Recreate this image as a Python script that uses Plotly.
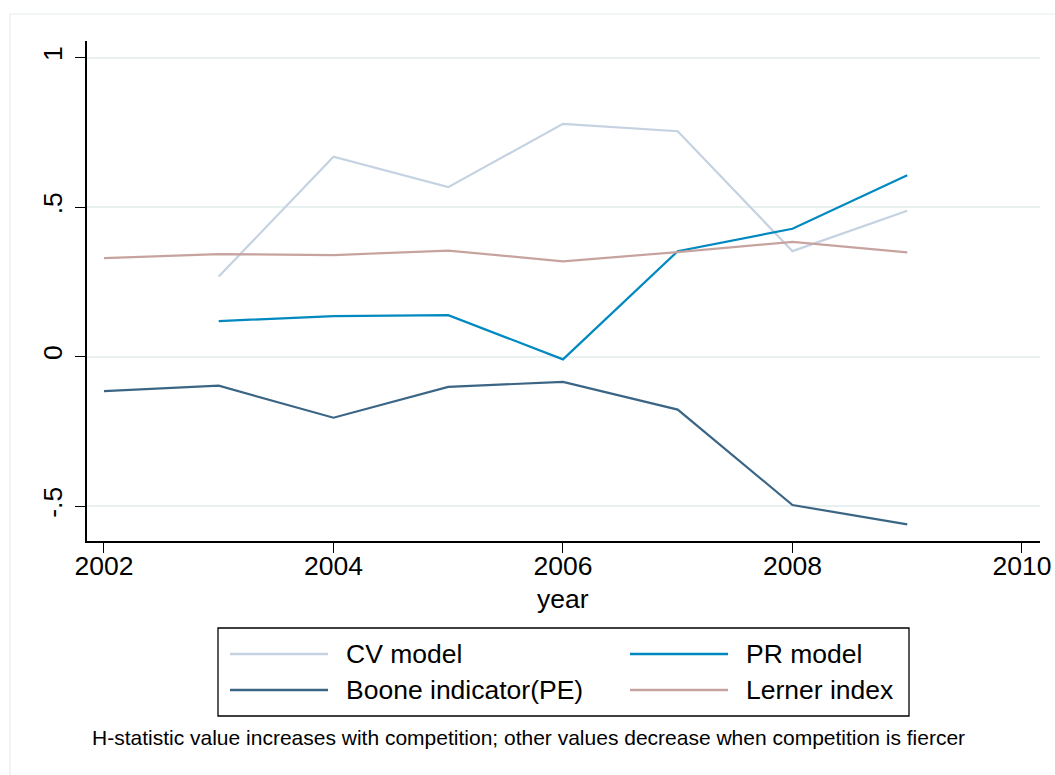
import plotly.graph_objects as go

years = [2002, 2003, 2004, 2005, 2006, 2007, 2008, 2009]
cv_model = [None, 0.268, 0.669, 0.567, 0.779, 0.754, 0.353, 0.488]
pr_model = [None, 0.119, 0.136, 0.139, -0.009, 0.353, 0.428, 0.607]
boone = [-0.115, -0.097, -0.204, -0.101, -0.084, -0.177, -0.496, -0.561]
lerner = [0.330, 0.343, 0.340, 0.355, 0.319, 0.350, 0.384, 0.349]

series_names = ["CV model", "PR model", "Boone indicator(PE)", "Lerner index"]
series_colors = ["#c4d2e1", "#0089c0", "#3b6585", "#c7a39f"]
series_values = [cv_model, pr_model, boone, lerner]

x_ticks = [2002, 2004, 2006, 2008, 2010]
y_ticks = [-0.5, 0, 0.5, 1]
y_tick_text = ["-.5", "0", ".5", "1"]
caption = "H-statistic value increases with competition; other values decrease when competition is fiercer"
x_title = "year"

W, H = 1055, 775
L, R, T, B = 87, 15, 41, 234
PW, PH = W - L - R, H - T - B


def px(x):
    return (x - L) / PW


def py(y):
    return (H - B - y) / PH


FONT = "Arial, Liberation Sans, sans-serif"

fig = go.Figure()
for name, color, vals in zip(series_names, series_colors, series_values):
    fig.add_trace(go.Scatter(x=years, y=vals, mode="lines", name=name,
                             line=dict(color=color, width=2.2),
                             connectgaps=False, showlegend=False))

shapes = []
annotations = []
# outer light frame
shapes.append(dict(type="rect", xref="paper", yref="paper",
                   x0=px(10), x1=px(1080), y0=py(800), y1=py(14),
                   line=dict(color="#e6eded", width=1.2), fillcolor="rgba(0,0,0,0)", layer="below"))
# legend box
shapes.append(dict(type="rect", xref="paper", yref="paper",
                   x0=px(218), x1=px(909), y0=py(716), y1=py(628),
                   line=dict(color="black", width=1.3), fillcolor="white"))
leg_pos = [(230, 654), (630, 654), (230, 690), (630, 690)]
for (lx, ly), name, color in zip(leg_pos, series_names, series_colors):
    shapes.append(dict(type="line", xref="paper", yref="paper",
                       x0=px(lx), x1=px(lx + 98), y0=py(ly), y1=py(ly),
                       line=dict(color=color, width=2.5)))
    annotations.append(dict(xref="paper", yref="paper", x=px(lx + 114), y=py(ly),
                            text=name, showarrow=False, xanchor="left", yanchor="middle",
                            font=dict(family=FONT, size=26.5, color="black")))
annotations.append(dict(xref="paper", yref="paper", x=px(90), y=py(737),
                        text=caption, showarrow=False, xanchor="left", yanchor="middle",
                        font=dict(family=FONT, size=21, color="black")))
annotations.append(dict(xref="paper", yref="paper", x=px(563), y=py(599),
                        text=x_title, showarrow=False, xanchor="center", yanchor="middle",
                        font=dict(family=FONT, size=26.5, color="black")))

fig.update_layout(
    width=W, height=H,
    margin=dict(l=L, r=R, t=T, b=B, pad=0, autoexpand=False),
    paper_bgcolor="white", plot_bgcolor="white",
    shapes=shapes, annotations=annotations,
    showlegend=False,
    font=dict(family=FONT, size=26, color="black"),
)
fig.update_xaxes(range=[2001.852, 2010.157], tickvals=x_ticks, automargin=False,
                 ticks="outside", ticklen=10, tickwidth=1.3, tickcolor="black",
                 ticklabelstandoff=-10,
                 showline=True, linecolor="black", linewidth=1.5,
                 showgrid=False, zeroline=False,
                 tickfont=dict(family=FONT, size=26.5, color="black"))
fig.update_yaxes(range=[-0.6164, 1.0559], tickvals=y_ticks, ticktext=y_tick_text,
                 tickangle=-90, automargin=False, ticklabelstandoff=3,
                 ticks="outside", ticklen=10, tickwidth=1.3, tickcolor="black",
                 showline=True, linecolor="black", linewidth=1.5,
                 showgrid=True, gridcolor="#e8f0f0", gridwidth=1.5, zeroline=False,
                 tickfont=dict(family=FONT, size=26.5, color="black"))

fig.write_html("out.html", config={"displayModeBar": False},
               post_script="document.body.style.margin='0';document.body.style.overflow='hidden';")
